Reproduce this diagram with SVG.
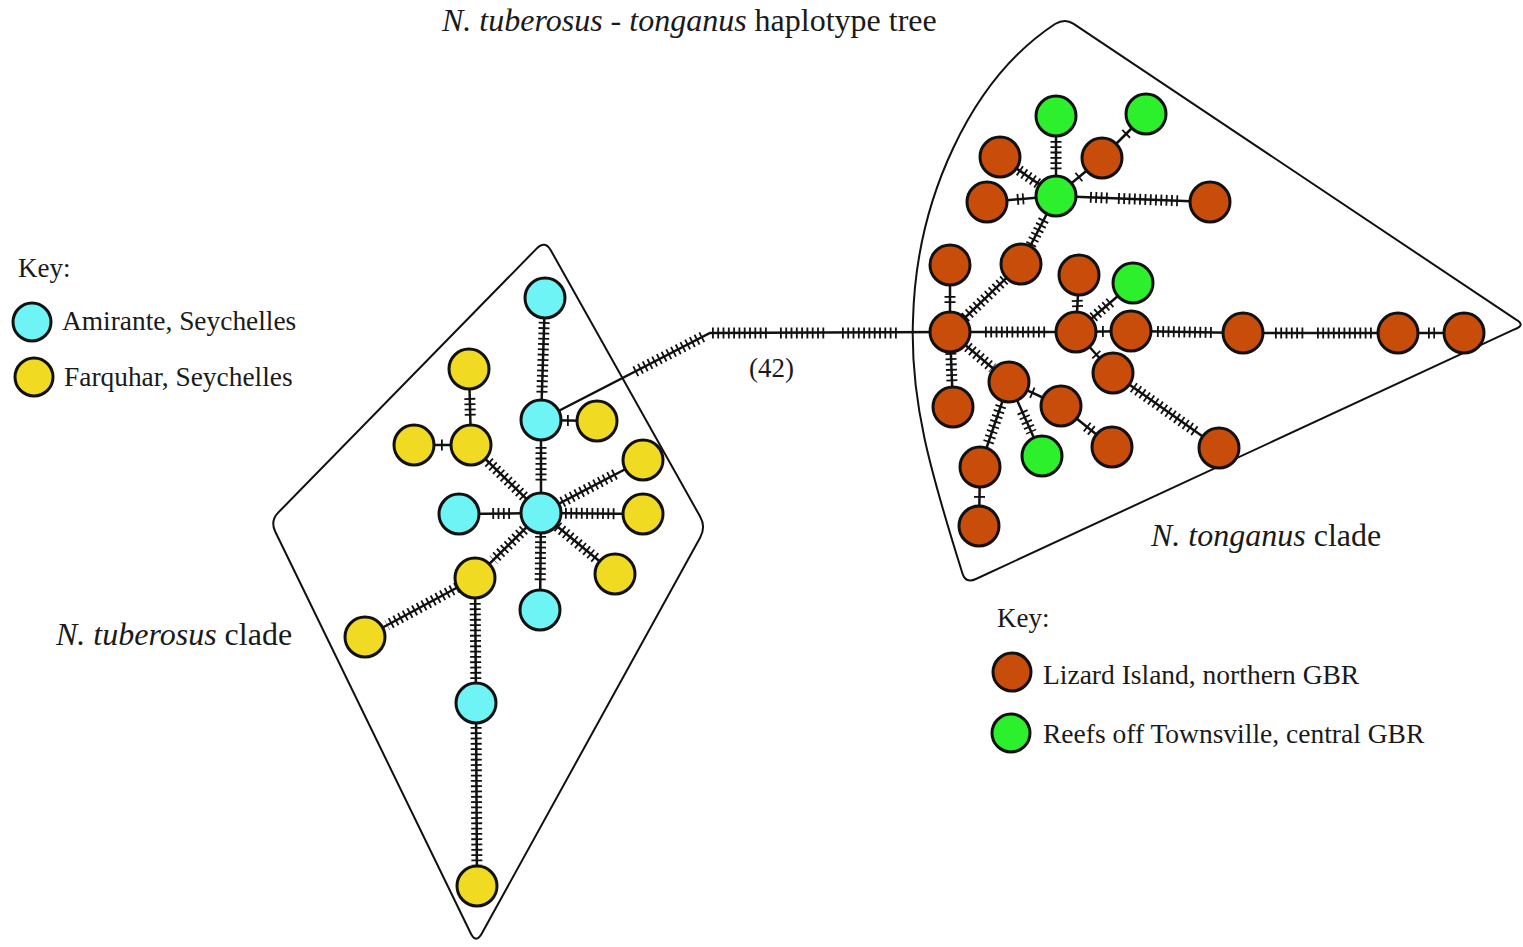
<svg xmlns="http://www.w3.org/2000/svg" width="1523" height="947" viewBox="0 0 1523 947">
  <style>
    text { font-family: "Liberation Serif", "Times New Roman", serif; fill: #1a1a1a; }
    .it { font-style: italic; }
    .hull { fill: none; stroke: #111; stroke-width: 2; stroke-linejoin: round; }
    .ln { fill: none; stroke: #111; stroke-width: 2.5; }
    .tk { fill: none; stroke: #111; stroke-width: 11; stroke-dasharray: 1.8 3.5; }
    .nd { stroke: #111; stroke-width: 3; }
    .cy { fill: #6ff4f6; }
    .ye { fill: #f1da22; }
    .or { fill: #c94d0a; }
    .gr { fill: #2cf02c; }
  </style>

  <!-- title -->
  <text x="442" y="31" font-size="32"><tspan class="it">N. tuberosus - tonganus</tspan> haplotype tree</text>

  <!-- clade outlines -->
  <g id="hulls">
    <path class="hull" d="M536.6,248.6 Q545,240 550.9,250.5 L700.1,516.5 Q706,527 700.2,537.5 L481.8,933.5 Q476,944 470.7,933.2 L275.3,531.8 Q270,521 278.4,512.4 Z"/>
    <path class="hull" d="M1073.3,23.6 L1515.7,319.4 Q1526,325 1514.9,329.2 L975.9,579 Q965,584 962,572 C930,470 910,400 913,320 C916,200 970,80 1055,24 Q1065,18 1073.3,23.6 Z"/>
  </g>

  <!-- connectors: plain branches, then mutation ticks -->
  <g id="connectors">
    <g class="branches">
      <!-- N. tuberosus -->
      <line class="ln" x1="545" y1="298" x2="541" y2="420"/>
      <line class="ln" x1="541" y1="420" x2="597" y2="421"/>
      <line class="ln" x1="541" y1="420" x2="541" y2="513"/>
      <line class="ln" x1="469" y1="369" x2="471" y2="445"/>
      <line class="ln" x1="414" y1="445" x2="471" y2="445"/>
      <line class="ln" x1="471" y1="445" x2="541" y2="513"/>
      <line class="ln" x1="541" y1="513" x2="459" y2="514"/>
      <line class="ln" x1="541" y1="513" x2="643" y2="460"/>
      <line class="ln" x1="541" y1="513" x2="643" y2="514"/>
      <line class="ln" x1="541" y1="513" x2="615" y2="574"/>
      <line class="ln" x1="541" y1="513" x2="540" y2="610"/>
      <line class="ln" x1="541" y1="513" x2="475" y2="578"/>
      <line class="ln" x1="475" y1="578" x2="365" y2="637"/>
      <line class="ln" x1="475" y1="578" x2="476" y2="703"/>
      <line class="ln" x1="476" y1="703" x2="477" y2="886"/>
      <!-- link between the clades -->
      <path class="ln" d="M541,420 L710,333 L950,332"/>
      <!-- N. tonganus -->
      <line class="ln" x1="950" y1="332" x2="950" y2="265"/>
      <line class="ln" x1="950" y1="332" x2="1021" y2="264"/>
      <line class="ln" x1="950" y1="332" x2="1076" y2="332"/>
      <line class="ln" x1="950" y1="332" x2="953" y2="407"/>
      <line class="ln" x1="950" y1="332" x2="1009" y2="382"/>
      <line class="ln" x1="1021" y1="264" x2="1056" y2="196"/>
      <line class="ln" x1="1056" y1="196" x2="1056" y2="116"/>
      <line class="ln" x1="1056" y1="196" x2="1000" y2="157"/>
      <line class="ln" x1="987" y1="202" x2="1056" y2="196"/>
      <line class="ln" x1="1056" y1="196" x2="1102" y2="158"/>
      <line class="ln" x1="1102" y1="158" x2="1146" y2="114"/>
      <line class="ln" x1="1056" y1="196" x2="1210" y2="202"/>
      <line class="ln" x1="1076" y1="332" x2="1079" y2="275"/>
      <line class="ln" x1="1076" y1="332" x2="1133" y2="283"/>
      <line class="ln" x1="1076" y1="332" x2="1131" y2="331"/>
      <line class="ln" x1="1076" y1="332" x2="1113" y2="373"/>
      <line class="ln" x1="1131" y1="331" x2="1243" y2="333"/>
      <line class="ln" x1="1243" y1="333" x2="1398" y2="333"/>
      <line class="ln" x1="1398" y1="333" x2="1464" y2="333"/>
      <line class="ln" x1="1113" y1="373" x2="1219" y2="448"/>
      <line class="ln" x1="1009" y1="382" x2="1061" y2="406"/>
      <line class="ln" x1="1061" y1="406" x2="1112" y2="447"/>
      <line class="ln" x1="1009" y1="382" x2="1042" y2="456"/>
      <line class="ln" x1="1009" y1="382" x2="980" y2="467"/>
      <line class="ln" x1="980" y1="467" x2="979" y2="526"/>
    </g>
    <g class="ticks">
      <!-- N. tuberosus -->
      <line class="tk" x1="544.2" y1="322" x2="541.9" y2="393"/>
      <line class="tk" x1="567" y1="420.5" x2="569" y2="420.5"/>
      <line class="tk" x1="541" y1="447" x2="541" y2="482"/>
      <line class="tk" x1="469.8" y1="398" x2="470.3" y2="417"/>
      <line class="tk" x1="441" y1="445" x2="443" y2="445"/>
      <line class="tk" x1="488.5" y1="462" x2="526.3" y2="498.7"/>
      <line class="tk" x1="510" y1="513.4" x2="490" y2="513.6"/>
      <line class="tk" x1="562" y1="502.1" x2="617.5" y2="473"/>
      <line class="tk" x1="565" y1="513.2" x2="617" y2="513.7"/>
      <line class="tk" x1="557.3" y1="526.4" x2="598" y2="560"/>
      <line class="tk" x1="540.6" y1="536" x2="540.2" y2="583"/>
      <line class="tk" x1="527.8" y1="526" x2="493.5" y2="559.8"/>
      <line class="tk" x1="457.4" y1="587.4" x2="387" y2="625.2"/>
      <line class="tk" x1="475.2" y1="603" x2="475.8" y2="680"/>
      <line class="tk" x1="476.1" y1="727" x2="476.9" y2="865"/>
      <!-- link -->
      <line class="tk" x1="635" y1="371.6" x2="705" y2="335.6"/>
      <line class="tk" x1="712" y1="333" x2="768" y2="333"/>
      <line class="tk" x1="780" y1="333" x2="827" y2="333"/>
      <line class="tk" x1="842" y1="333" x2="898" y2="333"/>
      <!-- N. tonganus -->
      <line class="tk" x1="950" y1="296" x2="950" y2="303"/>
      <line class="tk" x1="964.9" y1="317.7" x2="1006.8" y2="277.6"/>
      <line class="tk" x1="985" y1="332" x2="1047" y2="332"/>
      <line class="tk" x1="950.8" y1="353" x2="952" y2="383"/>
      <line class="tk" x1="967.7" y1="347" x2="992.5" y2="368"/>
      <line class="tk" x1="1030.8" y1="245" x2="1044.8" y2="217.8"/>
      <line class="tk" x1="1056" y1="141" x2="1056" y2="172"/>
      <line class="tk" x1="1038" y1="183.5" x2="1017.9" y2="169.5"/>
      <line class="tk" x1="1017" y1="199.4" x2="1024" y2="198.8"/>
      <line class="tk" x1="1078.2" y1="177.6" x2="1079.8" y2="176.3"/>
      <line class="tk" x1="1125.5" y1="134.5" x2="1126.9" y2="133.1"/>
      <line class="tk" x1="1090" y1="197.3" x2="1110" y2="198.1"/>
      <line class="tk" x1="1118" y1="198.4" x2="1178" y2="200.8"/>
      <line class="tk" x1="1077.2" y1="300" x2="1077.6" y2="307"/>
      <line class="tk" x1="1093.1" y1="317.3" x2="1113" y2="300.2"/>
      <line class="tk" x1="1102" y1="331.5" x2="1104" y2="331.5"/>
      <line class="tk" x1="1095.7" y1="353.9" x2="1097" y2="355.3"/>
      <line class="tk" x1="1157" y1="331.5" x2="1213" y2="332.5"/>
      <line class="tk" x1="1275" y1="333" x2="1305" y2="333"/>
      <line class="tk" x1="1317" y1="333" x2="1372" y2="333"/>
      <line class="tk" x1="1428" y1="333" x2="1435" y2="333"/>
      <line class="tk" x1="1133.1" y1="387.2" x2="1196.7" y2="432.3"/>
      <line class="tk" x1="1031.5" y1="392.4" x2="1033.3" y2="393.2"/>
      <line class="tk" x1="1086.5" y1="426.5" x2="1093.6" y2="432.2"/>
      <line class="tk" x1="1022.2" y1="411.6" x2="1031.4" y2="432.3"/>
      <line class="tk" x1="1000.9" y1="405.8" x2="987.3" y2="445.8"/>
      <line class="tk" x1="979.5" y1="496" x2="979.5" y2="498"/>
    </g>
  </g>

  <!-- N. tuberosus haplotypes -->
  <g id="tub-nodes">
    <g id="t1"><circle class="nd cy" cx="545" cy="298" r="20"/></g>
    <g id="t2"><circle class="nd cy" cx="541" cy="420" r="20"/></g>
    <g id="t3"><circle class="nd ye" cx="597" cy="421" r="20"/></g>
    <g id="t4"><circle class="nd ye" cx="469" cy="369" r="20"/></g>
    <g id="t5"><circle class="nd ye" cx="414" cy="445" r="20"/></g>
    <g id="t6"><circle class="nd ye" cx="471" cy="445" r="20"/></g>
    <g id="t7"><circle class="nd cy" cx="541" cy="513" r="20"/></g>
    <g id="t8"><circle class="nd cy" cx="459" cy="514" r="20"/></g>
    <g id="t9"><circle class="nd ye" cx="643" cy="460" r="20"/></g>
    <g id="t10"><circle class="nd ye" cx="643" cy="514" r="20"/></g>
    <g id="t11"><circle class="nd ye" cx="615" cy="574" r="20"/></g>
    <g id="t12"><circle class="nd cy" cx="540" cy="610" r="20"/></g>
    <g id="t13"><circle class="nd ye" cx="475" cy="578" r="20"/></g>
    <g id="t14"><circle class="nd ye" cx="365" cy="637" r="20"/></g>
    <g id="t15"><circle class="nd cy" cx="476" cy="703" r="20"/></g>
    <g id="t16"><circle class="nd ye" cx="477" cy="886" r="20"/></g>
  </g>

  <!-- N. tonganus haplotypes -->
  <g id="ton-nodes">
    <g id="g1"><circle class="nd gr" cx="1056" cy="116" r="20"/></g>
    <g id="g2"><circle class="nd gr" cx="1146" cy="114" r="20"/></g>
    <g id="o1"><circle class="nd or" cx="1000" cy="157" r="20"/></g>
    <g id="o2"><circle class="nd or" cx="1102" cy="158" r="20"/></g>
    <g id="o3"><circle class="nd or" cx="987" cy="202" r="20"/></g>
    <g id="g3"><circle class="nd gr" cx="1056" cy="196" r="20"/></g>
    <g id="o4"><circle class="nd or" cx="1210" cy="202" r="20"/></g>
    <g id="o5"><circle class="nd or" cx="1021" cy="264" r="20"/></g>
    <g id="o6"><circle class="nd or" cx="950" cy="265" r="20"/></g>
    <g id="o7"><circle class="nd or" cx="1079" cy="275" r="20"/></g>
    <g id="g4"><circle class="nd gr" cx="1133" cy="283" r="20"/></g>
    <g id="o8"><circle class="nd or" cx="950" cy="332" r="20"/></g>
    <g id="o9"><circle class="nd or" cx="1076" cy="332" r="20"/></g>
    <g id="o10"><circle class="nd or" cx="1131" cy="331" r="20"/></g>
    <g id="o11"><circle class="nd or" cx="1243" cy="333" r="20"/></g>
    <g id="o12"><circle class="nd or" cx="1398" cy="333" r="20"/></g>
    <g id="o13"><circle class="nd or" cx="1464" cy="333" r="20"/></g>
    <g id="o14"><circle class="nd or" cx="953" cy="407" r="20"/></g>
    <g id="o15"><circle class="nd or" cx="1009" cy="382" r="20"/></g>
    <g id="o16"><circle class="nd or" cx="1061" cy="406" r="20"/></g>
    <g id="o17"><circle class="nd or" cx="1113" cy="373" r="20"/></g>
    <g id="o18"><circle class="nd or" cx="1219" cy="448" r="20"/></g>
    <g id="o19"><circle class="nd or" cx="1112" cy="447" r="20"/></g>
    <g id="g5"><circle class="nd gr" cx="1042" cy="456" r="20"/></g>
    <g id="o20"><circle class="nd or" cx="980" cy="467" r="20"/></g>
    <g id="o21"><circle class="nd or" cx="979" cy="526" r="20"/></g>
  </g>

  <!-- labels -->
  <text x="749" y="377" font-size="27">(42)</text>
  <text x="56" y="645" font-size="32"><tspan class="it">N. tuberosus</tspan> clade</text>
  <text x="1151" y="546" font-size="32"><tspan class="it">N. tonganus</tspan> clade</text>

  <!-- keys -->
  <g id="key-left">
    <text x="18" y="277" font-size="27">Key:</text>
    <circle class="nd cy" cx="32" cy="322" r="19"/>
    <text x="62" y="330" font-size="27.4">Amirante, Seychelles</text>
    <circle class="nd ye" cx="34" cy="377" r="19"/>
    <text x="64" y="386" font-size="27.4">Farquhar, Seychelles</text>
  </g>
  <g id="key-right">
    <text x="997" y="627" font-size="27">Key:</text>
    <circle class="nd or" cx="1012" cy="672" r="19"/>
    <text x="1043" y="684" font-size="27.5">Lizard Island, northern GBR</text>
    <circle class="nd gr" cx="1011" cy="733" r="19"/>
    <text x="1043" y="743" font-size="27.5">Reefs off Townsville, central GBR</text>
  </g>
</svg>
